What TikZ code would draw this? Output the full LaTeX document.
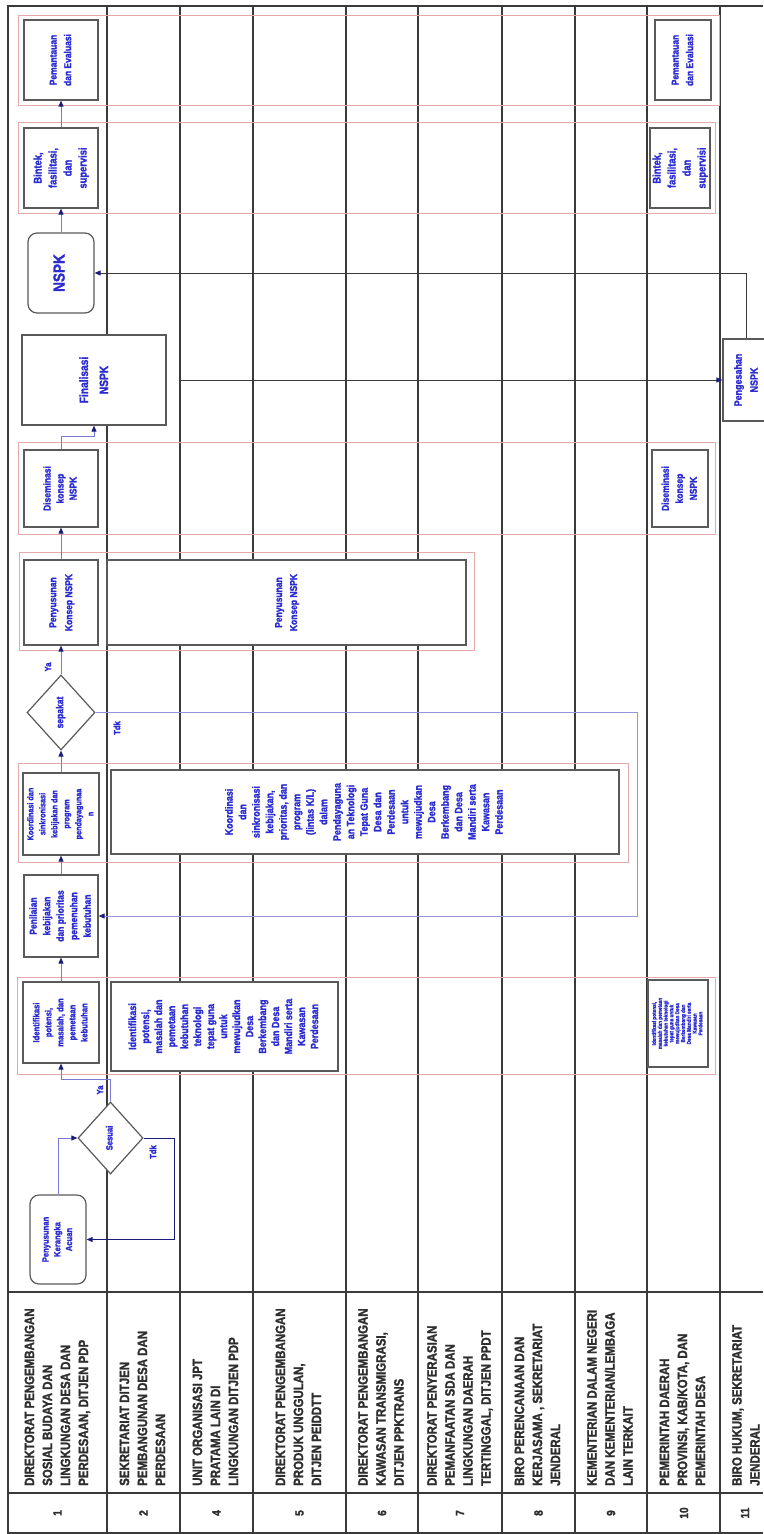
\documentclass[tikz,border=0pt]{standalone}
\usepackage{fontspec}
\usepackage{graphicx}
\setmainfont{Liberation Sans}
\newfontfamily\nar[FakeStretch=0.85, FakeBold=1.6, UprightFont={* Bold}, BoldFont={* Bold}]{Liberation Sans}
\usetikzlibrary{arrows.meta,shapes.geometric}
\definecolor{txtblue}{HTML}{2B2BD2}
\definecolor{navy}{HTML}{1B1B7A}
\definecolor{lnblue}{HTML}{7A7AD6}
\definecolor{frpink}{HTML}{E2AAAA}
\definecolor{boxgray}{HTML}{5A5A5A}
\definecolor{hdrtxt}{HTML}{2E2E2E}
\definecolor{lanec}{HTML}{3A3A3A}
\newcommand{\vtx}[3]{\rotatebox{90}{\fontsize{#1}{#2}\selectfont\begin{tabular}{@{}c@{}}#3\end{tabular}}}
\newcommand{\hdtx}[1]{\rotatebox{90}{\begin{tabular}{@{}l@{}}#1\end{tabular}}}
\begin{document}
\begin{tikzpicture}[x=1pt,y=-1pt,
  lane/.style={draw=lanec, line width=1.1pt},
  outer/.style={draw=lanec, line width=1.6pt},
  frame/.style={draw=frpink, line width=0.9pt},
  bx/.style 2 args={minimum width=#1pt, minimum height=#2pt},
  box/.style={draw=boxgray, line width=1.2pt, fill=white, inner sep=0pt, text=txtblue, font=\nar},
  rbox/.style={box, rounded corners=9pt},
  dia/.style={box, diamond, shape aspect=1},
  hdr/.style={inner sep=0pt, text=hdrtxt, font=\nar\fontsize{13.5}{18}\selectfont, anchor=south},
  num/.style={inner sep=0pt, text=hdrtxt, font=\nar\fontsize{12}{14}\selectfont},
  lbl/.style={inner sep=0pt, text=txtblue, font=\nar\fontsize{9}{10}\selectfont, rotate=90},
  conn/.style={draw=lnblue, line width=0.9pt, -{Triangle[length=6pt,width=5pt,color=navy]}},
  connd/.style={draw=navy, line width=0.9pt, -{Triangle[length=6pt,width=5pt,color=navy]}},
  connl/.style={draw=lnblue!80, line width=0.9pt, -{Triangle[length=6pt,width=5pt,color=navy]}},
  conng/.style={draw=lanec, line width=0.9pt, -{Triangle[length=6pt,width=5pt,color=navy]}}
]
\useasboundingbox (0,0) rectangle (763,1534);
\fill[white] (0,0) rectangle (763,1534);

% lanes and table
\foreach \x in {107,180,253,346,418,502,575,647,720} \draw[lane] (\x,6) -- (\x,1533);
\draw[lane] (8,1292) -- (763,1292);
\draw[lane] (8,1493) -- (763,1493);
\draw[outer] (763,6) -- (8,6) -- (8,1533) -- (763,1533);

% phase frames
\draw[frame] (18,15) rectangle (719,105);
\draw[frame] (18,122) rectangle (715,213);
\draw[frame] (18,442) rectangle (715,534);
\draw[frame] (19,552) rectangle (474,650);
\draw[frame] (18,763) rectangle (628,862);
\draw[frame] (17,977) rectangle (715,1074);

% nodes
\node[rbox, bx={56}{89}] (ker) at (58,1239.5) {\vtx{9}{11.7}{Penyusunan\\Kerangka\\Acuan}};
\node[dia, bx={65}{72}] (ses) at (110.5,1138) {\vtx{9}{10}{Sesuai}};
\node[box, bx={76}{81}] (idA) at (61,1022.5) {\vtx{9}{12}{Identifikasi\\potensi,\\masalah, dan\\pemetaan\\kebutuhan}};
\node[box, bx={227}{89}] (idB) at (224.5,1026.5) {\vtx{10.5}{13}{Identifikasi\\potensi,\\masalah dan\\pemetaan\\kebutuhan\\teknologi\\tepat guna\\untuk\\mewujudkan\\Desa\\Berkembang\\dan Desa\\Mandiri serta\\Kawasan\\Perdesaan}};
\node[box, bx={60}{87}] (idC) at (678,1023.5) {\vtx{5.5}{5.8}{Identifikasi potensi,\\masalah dan pemetaan\\kebutuhan teknologi\\tepat guna untuk\\mewujudkan Desa\\Berkembang dan\\Desa Mandiri serta\\Kawasan\\Perdesaan}};
\node[box, bx={74}{82}] (pen) at (61,916) {\vtx{10}{13.5}{Penilaian\\kebijakan\\dan prioritas\\pemenuhan\\kebutuhan}};
\node[box, bx={76}{82}] (koA) at (61,814) {\vtx{8.5}{12}{Koordinasi dan\\sinkronisasi\\kebijakan dan\\program\\pendayagunaa\\n}};
\node[box, bx={508}{84}] (koB) at (365,812) {\vtx{10.5}{13.5}{Koordinasi\\dan\\sinkronisasi\\kebijakan,\\prioritas, dan\\program\\(lintas K/L)\\dalam\\Pendayaguna\\an Teknologi\\Tepat Guna\\Desa dan\\Perdesaan\\untuk\\mewujudkan\\Desa\\Berkembang\\dan Desa\\Mandiri serta\\Kawasan\\Perdesaan}};
\node[dia, bx={68}{75}] (sep) at (61,712.5) {\vtx{10}{11}{sepakat}};
\node[box, bx={74}{85}] (pkA) at (61,602.5) {\vtx{10}{16}{Penyusunan\\Konsep NSPK}};
\node[box, bx={359}{85}] (pkB) at (286.5,602.5) {\vtx{10}{15}{Penyusunan\\Konsep NSPK}};
\node[box, bx={74}{77}] (disA) at (61,488.5) {\vtx{10}{13}{Diseminasi\\konsep\\NSPK}};
\node[box, bx={56}{77}] (disB) at (680,488.5) {\vtx{10}{14}{Diseminasi\\konsep\\NSPK}};
\node[box, bx={144}{90}] (fin) at (94,380) {\vtx{12}{20}{Finalisasi\\NSPK}};
\node[box, bx={47}{82}] (peng) at (746.5,380) {\vtx{10.5}{16}{Pengesahan\\NSPK}};
\node[rbox, bx={66}{80}] (nspk) at (61,273) {\vtx{16}{18}{NSPK}};
\node[box, bx={74}{80}] (binA) at (61,168) {\vtx{11}{15}{Bintek,\\fasilitasi,\\dan\\supervisi}};
\node[box, bx={56}{80}] (binB) at (680,168) {\vtx{11}{15}{Bintek,\\fasilitasi,\\dan\\supervisi}};
\node[box, bx={74}{80}] (pemA) at (61,60) {\vtx{10}{14.5}{Pemantauan\\dan Evaluasi}};
\node[box, bx={56}{80}] (pemB) at (683,60) {\vtx{10}{14.5}{Pemantauan\\dan Evaluasi}};

% connectors
\draw[conn] (ker.north) |- (ses.west);
\draw[connd] (ses.east) -- ++(31,0) |- (ker.east);
\draw[conn] (ses.north) -- ++(0,-22) -| (idA.south);
\draw[conn] (idA.north) -- (pen.south);
\draw[conn] (pen.north) -- (koA.south);
\draw[conn] (koA.north) -- (sep.south);
\draw[conn] (sep.north) -- (pkA.south);
\coordinate (tk) at (637,712.5);
\draw[connl] (sep.east) -- (tk) |- (pen.east);
\draw[conn] (pkA.north) -- (disA.south);
\draw[conn] (disA.north) -- ++(0,-13) -| (fin.south);
\draw[conng] ([xshift=12pt]fin.east) -- (peng.west);
\draw[conng] (peng.north) |- (nspk.east);
\draw[conn] (nspk.north) -- (binA.south);
\draw[conn] (binA.north) -- (pemA.south);

% labels
\node[lbl] (l1) at (153,1152) {Tdk};
\node[lbl] (l2) at (100,1090) {Ya};
\node[lbl] (l3) at (48,667) {Ya};
\node[lbl] (l4) at (117,728) {Tdk};

% headers
\node[hdr] (h1) at (57.5,1486) {\hdtx{DIREKTORAT PENGEMBANGAN\\SOSIAL BUDAYA DAN\\LINGKUNGAN DESA DAN\\PERDESAAN, DITJEN PDP}};
\node[hdr] (h2) at (143.5,1486) {\hdtx{SEKRETARIAT DITJEN\\PEMBANGUNAN DESA DAN\\PERDESAAN}};
\node[hdr] (h4) at (216.5,1486) {\hdtx{UNIT ORGANISASI JPT\\PRATAMA LAIN DI\\LINGKUNGAN DITJEN PDP}};
\node[hdr] (h5) at (299.5,1486) {\hdtx{DIREKTORAT PENGEMBANGAN\\PRODUK UNGGULAN,\\DITJEN PEIDDTT}};
\node[hdr] (h6) at (382,1486) {\hdtx{DIREKTORAT PENGEMBANGAN\\KAWASAN TRANSMIGRASI,\\DITJEN PPKTRANS}};
\node[hdr] (h7) at (460,1486) {\hdtx{DIREKTORAT PENYERASIAN\\PEMANFAATAN SDA DAN\\LINGKUNGAN DAERAH\\TERTINGGAL, DITJEN PPDT}};
\node[hdr] (h8) at (538.5,1486) {\hdtx{BIRO PERENCANAAN DAN\\KERJASAMA , SEKRETARIAT\\JENDERAL}};
\node[hdr] (h9) at (611,1486) {\hdtx{KEMENTERIAN DALAM NEGERI\\DAN KEMENTERIAN/LEMBAGA\\LAIN TERKAIT}};
\node[hdr] (h10) at (683.5,1486) {\hdtx{PEMERINTAH DAERAH\\PROVINSI, KAB/KOTA, DAN\\PEMERINTAH DESA}};
\node[hdr] (h11) at (747,1486) {\hdtx{BIRO HUKUM, SEKRETARIAT\\JENDERAL}};

% numbers
\node[num] (n1) at (57.5,1513) {\rotatebox{90}{1}};
\node[num] (n2) at (143.5,1513) {\rotatebox{90}{2}};
\node[num] (n4) at (216.5,1513) {\rotatebox{90}{4}};
\node[num] (n5) at (299.5,1513) {\rotatebox{90}{5}};
\node[num] (n6) at (382,1513) {\rotatebox{90}{6}};
\node[num] (n7) at (460,1513) {\rotatebox{90}{7}};
\node[num] (n8) at (538.5,1513) {\rotatebox{90}{8}};
\node[num] (n9) at (611,1513) {\rotatebox{90}{9}};
\node[num] (n10) at (684,1513) {\rotatebox{90}{10}};
\node[num] (n11) at (745,1513) {\rotatebox{90}{11}};
\end{tikzpicture}
\end{document}
